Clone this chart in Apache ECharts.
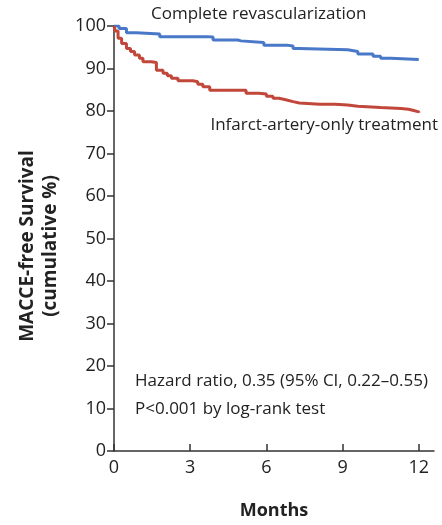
<!DOCTYPE html>
<html>
<head>
<meta charset="utf-8">
<script src="https://cdn.jsdelivr.net/npm/echarts@6/dist/echarts.min.js"></script>
<style>
  html, body { margin: 0; padding: 0; background: #fff; }
  #chart { width: 442px; height: 525px; }
</style>
</head>
<body>
<div id="chart"></div>
<script>
// Kaplan-Meier steps, [months, % event-free]
const completeRevasc = [
  [0, 100], [0.2, 99.4], [0.49, 98.4], [0.88, 98.1], [1.8, 97.5], [3.64, 97.4],
  [3.9, 96.7], [4.87, 96.5], [5.0, 96.1], [5.9, 95.5], [6.8, 95.3],
  [7.05, 94.7], [7.3, 94.4], [9.2, 94.0], [9.6, 93.4], [10.2, 92.9],
  [10.5, 92.4], [10.9, 92.1], [12.0, 92.1]
]
const infarctOnly = [
  [0, 100], [0.05, 98.8], [0.16, 97.1], [0.3, 95.9], [0.49, 94.7], [0.65, 94.0],
  [0.81, 93.2], [1.0, 92.4], [1.14, 91.6], [1.47, 91.4], [1.67, 89.6], [1.93, 88.9],
  [2.1, 88.3], [2.26, 87.7], [2.52, 87.1], [3.11, 86.9], [3.3, 86.3], [3.5, 85.7],
  [3.77, 84.9], [5.0, 84.9], [5.2, 84.2], [5.7, 84.0], [6.0, 83.5], [6.26, 83.0],
  [6.5, 82.6], [6.8, 82.2], [7.05, 81.9], [7.3, 81.6], [8.1, 81.6], [8.7, 81.4],
  [9.2, 81.1], [9.6, 80.8], [10.5, 80.6], [11.3, 80.4], [11.6, 80.1],
  [11.8, 79.8], [12.0, 79.6]
]
const xTicks = [0, 3, 6, 9, 12]
const seriesNames = ['Complete revascularization', 'Infarct-artery-only treatment']
const notes = ['Hazard ratio, 0.35 (95% CI, 0.22\u20130.55)', 'P<0.001 by log-rank test']
const yTitle = 'MACCE-free Survival\n(cumulative %)'

const font = "'Open Sans', sans-serif"
const axisColor = '#333'

const myChart = echarts.init(document.getElementById('chart'))

const option = {
  animation: false,
  grid: { left: 114, right: 8, top: 26, bottom: 74 },
  xAxis: {
    type: 'value',
    min: 0,
    max: 12.6,
    name: 'Months',
    nameLocation: 'middle',
    nameGap: 51,
    nameTextStyle: { fontFamily: font, fontSize: 18, fontWeight: 'bold', color: '#222' },
    splitLine: { show: false },
    axisLine: { lineStyle: { color: axisColor, width: 1.5 } },
    axisTick: { inside: true, length: 7, customValues: xTicks, lineStyle: { color: axisColor, width: 1.5 } },
    axisLabel: { customValues: xTicks, margin: 8, fontFamily: font, fontSize: 18, color: '#222' }
  },
  yAxis: {
    type: 'value',
    min: 0,
    max: 100,
    interval: 10,
    splitLine: { show: false },
    axisLine: { show: true, lineStyle: { color: axisColor, width: 1.5 } },
    axisTick: { show: true, length: 7, lineStyle: { color: axisColor, width: 1.5 } },
    axisLabel: { margin: 8, fontFamily: font, fontSize: 18, color: '#222' }
  },
  series: [
    {
      name: seriesNames[0],
      type: 'line',
      step: 'end',
      data: completeRevasc,
      symbol: 'none',
      lineStyle: { color: '#4a78c8', width: 3 }
    },
    {
      name: seriesNames[1],
      type: 'line',
      step: 'end',
      data: infarctOnly,
      symbol: 'none',
      lineStyle: { color: '#c2473b', width: 3 }
    }
  ],
  graphic: [
    {
      type: 'text', x: 39, y: 246, rotation: Math.PI / 2,
      style: {
        text: yTitle, font: 'bold 19px ' + font, fill: '#222',
        align: 'center', verticalAlign: 'middle', lineHeight: 23
      }
    },
    { type: 'text', left: 151, top: 6, style: { text: seriesNames[0], font: '17px ' + font, fill: '#222' } },
    { type: 'text', right: 4, top: 117, style: { text: seriesNames[1], font: '17px ' + font, fill: '#222' } },
    { type: 'text', left: 135, top: 373, style: { text: notes[0], font: '17px ' + font, fill: '#222' } },
    { type: 'text', left: 135, top: 401, style: { text: notes[1], font: '17px ' + font, fill: '#222' } }
  ]
}

myChart.setOption(option)
</script>
</body>
</html>
